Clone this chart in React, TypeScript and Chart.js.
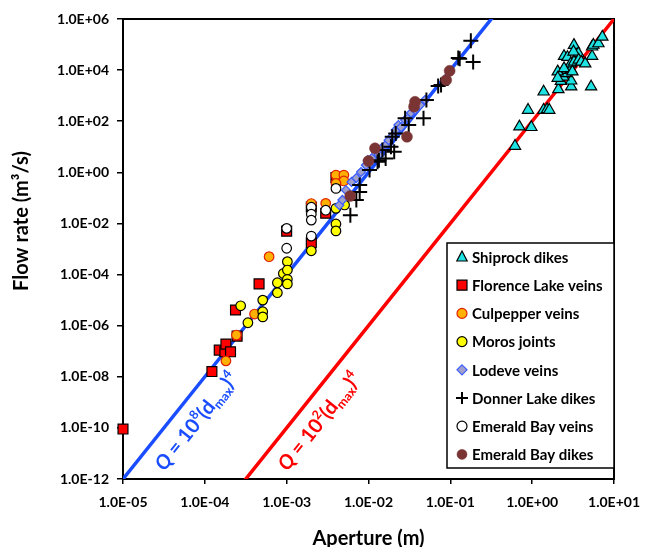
import React, { useEffect, useRef } from 'react';
import { Chart, registerables } from 'chart.js';

Chart.register(...registerables);

const FONT = 'Lato, "Open Sans", "DejaVu Sans", sans-serif';

// ---- axes ----
const xTickValues = [1e-5, 1e-4, 1e-3, 1e-2, 1e-1, 1, 10];
const xTickLabels = ['1.0E-05', '1.0E-04', '1.0E-03', '1.0E-02', '1.0E-01', '1.0E+00', '1.0E+01'];
const yTickValues = [1e-12, 1e-10, 1e-8, 1e-6, 1e-4, 1e-2, 1, 1e2, 1e4, 1e6];
const yTickLabels = ['1.0E-12', '1.0E-10', '1.0E-08', '1.0E-06', '1.0E-04', '1.0E-02', '1.0E+00', '1.0E+02', '1.0E+04', '1.0E+06'];
const xTitle = 'Aperture (m)';
const yTitle = 'Flow rate (m³/s)';

// ---- series (aperture in m, flow rate in m3/s) ----
const shiprockAperture = [0.617, 0.698, 0.977, 0.89, 1.38, 1.52, 1.62, 1.38, 2.09, 3.0, 3.0, 5.25, 2.24, 2.4, 2.58, 2.7, 2.96, 2.45, 2.7, 3.24, 3.67, 3.2, 2.96, 3.24, 3.7, 3.98, 4.45, 5.4, 5.4, 5.6, 6.45, 7.2, 2.05, 2.45, 3.1, 2.05];
const shiprockFlow = [10.7, 61, 58, 274, 274, 290, 274, 1420, 1770, 2240, 3830, 2240, 3700, 5500, 7400, 1.0e4, 1.07e4, 3.5e4, 3.2e4, 9.5e4, 4.5e4, 5.2e4, 1.8e4, 2.1e4, 2.5e4, 2.1e4, 1.8e4, 3.5e4, 8.2e4, 9.6e4, 1.1e5, 2.0e5, 8700, 1.17e4, 8700, 4900];

const florenceAperture = [1e-5, 1.22e-4, 1.5e-4, 1.76e-4, 1.81e-4, 2.06e-4, 2.48e-4, 2.37e-4, 4.6e-4, 1e-3, 2e-3, 2e-3, 3e-3, 4e-3];
const florenceFlow = [9e-11, 1.6e-8, 1.1e-7, 9.5e-8, 1.9e-7, 9.5e-8, 3.9e-7, 4.1e-6, 4.3e-5, 5e-3, 1.76e-3, 0.044, 0.025, 0.63];

const culpepperAperture = [1.81e-4, 2.43e-4, 4.05e-4, 6.1e-4, 2e-3, 3e-3, 4e-3, 5e-3, 5e-3, 4e-3];
const culpepperFlow = [4.2e-8, 4.3e-7, 2.85e-6, 5e-4, 0.06, 0.061, 0.78, 0.78, 0.46, 0.37];

const morosAperture = [2.74e-4, 3.36e-4, 5.1e-4, 5.1e-4, 5.1e-4, 7.7e-4, 7.7e-4, 9.1e-4, 1.02e-3, 1.02e-3, 1.02e-3, 1.02e-3, 2e-3, 4e-3, 4e-3, 4e-3, 5.1e-3];
const morosFlow = [6e-6, 1.3e-6, 1e-5, 3.5e-6, 2.2e-6, 4.8e-5, 1.95e-5, 1.1e-4, 3.2e-4, 1.5e-4, 6.5e-5, 4.3e-5, 8.5e-4, 0.039, 9.5e-3, 5.1e-3, 0.053];

const lodeveAperture = [4.4e-3, 4.8e-3, 5.3e-3, 6.2e-3, 7.1e-3, 8.1e-3, 9.3e-3, 9.8e-3, 0.011, 0.0123, 0.0133, 0.0145, 0.0162, 0.0176, 0.0196, 0.0214, 0.0232, 0.025, 0.028, 0.0305, 0.033, 0.037, 0.0427, 0.049];
const lodeveFlow = [0.052, 0.083, 0.2, 0.42, 0.6, 1.03, 1.9, 3.0, 3.6, 7.4, 4.8, 8.9, 11.7, 18, 26, 45, 71, 59, 112, 132, 209, 275, 427, 676];

const donnerAperture = [0.006, 0.0071, 0.0078, 0.0078, 0.0103, 0.0129, 0.0134, 0.0148, 0.0162, 0.0188, 0.0195, 0.0206, 0.0215, 0.028, 0.031, 0.047, 0.051, 0.071, 0.077, 0.125, 0.13, 0.178, 0.19];
const donnerFlow = [0.021, 0.083, 0.17, 0.32, 1.23, 2.6, 3.0, 7.4, 3.5, 10, 24.6, 6.4, 33, 130, 71, 130, 670, 2400, 2600, 3.0e4, 2.8e4, 1.4e5, 2.1e4];

const emeraldVeinsAperture = [1e-3, 1e-3, 2e-3, 2e-3, 2e-3, 2e-3, 3e-3, 4e-3];
const emeraldVeinsFlow = [6.4e-3, 1.07e-3, 0.043, 0.023, 0.0135, 3.2e-3, 0.033, 0.235];

const emeraldDikesAperture = [5.97e-3, 0.01, 0.012, 0.0295, 0.036, 0.037, 0.089, 0.098];
const emeraldDikesFlow = [0.118, 2.76, 8.7, 24.6, 370, 575, 4080, 9400];

// ---- fit lines Q = c * d^4 ----
const fitCoefficients = [1e8, 1e2];
const fitExponentLabels = ['8', '2'];
const fitExponent = 4;
const fitColors = ['#1A4DFF', '#FF0000'];
const fitLabelAnchorAperture = [3.2e-5, 1.016e-3];
const fitLabelAnchorFlow = [1.86e-12, 1.86e-12];

const pts = (xs: number[], ys: number[]) => xs.map((x, i) => ({ x, y: ys[i] }));

type Seg = { t: string; italic?: boolean; sup?: boolean; sub?: boolean };

function drawMarker(ctx: CanvasRenderingContext2D, style: string, x: number, y: number, r: number, fill: string, stroke: string, lw: number) {
  ctx.save();
  ctx.beginPath();
  ctx.fillStyle = fill;
  ctx.strokeStyle = stroke;
  ctx.lineWidth = lw;
  if (style === 'triangle') {
    ctx.moveTo(x, y - r);
    ctx.lineTo(x + r * 0.866, y + r * 0.5 + 1);
    ctx.lineTo(x - r * 0.866, y + r * 0.5 + 1);
    ctx.closePath();
    ctx.fill();
    ctx.stroke();
  } else if (style === 'rect') {
    ctx.rect(x - r, y - r, 2 * r, 2 * r);
    ctx.fill();
    ctx.stroke();
  } else if (style === 'rectRot') {
    ctx.moveTo(x, y - r);
    ctx.lineTo(x + r, y);
    ctx.lineTo(x, y + r);
    ctx.lineTo(x - r, y);
    ctx.closePath();
    ctx.fill();
    ctx.stroke();
  } else if (style === 'cross') {
    ctx.moveTo(x - r, y);
    ctx.lineTo(x + r, y);
    ctx.moveTo(x, y - r);
    ctx.lineTo(x, y + r);
    ctx.stroke();
  } else {
    ctx.arc(x, y, r, 0, Math.PI * 2);
    ctx.fill();
    if (lw > 0) ctx.stroke();
  }
  ctx.restore();
}

const decorPlugin = {
  id: 'decor',
  beforeDatasetsDraw(chart: any) {
    const { ctx, chartArea } = chart;
    ctx.save();
    ctx.strokeStyle = '#000';
    ctx.lineWidth = 2;
    ctx.strokeRect(chartArea.left, chartArea.top, chartArea.right - chartArea.left, chartArea.bottom - chartArea.top);
    ctx.restore();
  },
  afterDraw(chart: any) {
    const { ctx, chartArea } = chart;
    const xs = chart.scales.x;
    const ys = chart.scales.y;

    // fit line labels
    fitCoefficients.forEach((c, i) => {
      const x1 = xs.getPixelForValue(1e-5), y1 = ys.getPixelForValue(c * Math.pow(1e-5, fitExponent));
      const x2 = xs.getPixelForValue(1e-3), y2 = ys.getPixelForValue(c * Math.pow(1e-3, fitExponent));
      const ang = Math.atan2(y2 - y1, x2 - x1);
      const ax = xs.getPixelForValue(fitLabelAnchorAperture[i]);
      const ay = ys.getPixelForValue(fitLabelAnchorFlow[i]);
      const segs: Seg[] = [
        { t: 'Q', italic: true },
        { t: ' = 10' },
        { t: fitExponentLabels[i], sup: true },
        { t: '(d' },
        { t: 'max', sub: true },
        { t: ')' },
        { t: String(fitExponent), sup: true },
      ];
      ctx.save();
      ctx.translate(ax, ay);
      ctx.rotate(ang);
      ctx.fillStyle = fitColors[i];
      ctx.textBaseline = 'alphabetic';
      ctx.textAlign = 'left';
      let x = 0;
      for (const s of segs) {
        const size = s.sup || s.sub ? 12.5 : 20;
        ctx.font = `${s.italic ? 'italic ' : ''}bold ${size}px ${FONT}`;
        const dy = s.sup ? -8.5 : s.sub ? 4 : 0;
        ctx.fillText(s.t, x, dy);
        x += ctx.measureText(s.t).width;
      }
      ctx.restore();
    });

    // axis titles
    ctx.save();
    ctx.fillStyle = '#000';
    ctx.font = `bold 20px ${FONT}`;
    ctx.textAlign = 'center';
    ctx.textBaseline = 'alphabetic';
    ctx.fillText(xTitle, (chartArea.left + chartArea.right) / 2, 545);
    ctx.translate(22, 221);
    ctx.rotate(-Math.PI / 2);
    ctx.textBaseline = 'middle';
    ctx.fillText(yTitle, 0, 0);
    ctx.restore();

    // legend
    const lx = 447, ly = 243, lw = 167, lh = 225;
    ctx.save();
    ctx.fillStyle = '#fff';
    ctx.fillRect(lx, ly, lw, lh);
    ctx.strokeStyle = '#000';
    ctx.lineWidth = 1.5;
    ctx.strokeRect(lx, ly, lw, lh);
    const items = chart.data.datasets.filter((d: any) => d.type !== 'line');
    items.forEach((d: any, k: number) => {
      const cy = ly + 14 + k * 28.2;
      const mx = lx + 15;
      const st = d.pointStyle;
      const r = st === 'rect' ? 5 : st === 'triangle' ? 6 : st === 'cross' ? 6 : st === 'rectRot' ? 5 : 5;
      drawMarker(ctx, st, mx, cy, r, d.backgroundColor, d.borderColor, st === 'cross' ? 2 : d.borderWidth);
      ctx.fillStyle = '#000';
      ctx.font = `bold 15px ${FONT}`;
      ctx.textAlign = 'left';
      ctx.textBaseline = 'middle';
      ctx.fillText(d.label, lx + 25, cy + 1);
    });
    ctx.restore();
  },
};

export default function App() {
  const ref = useRef<HTMLCanvasElement | null>(null);
  useEffect(() => {
    if (!ref.current) return;
    const fitDatasets = fitCoefficients.map((c, i) => ({
      type: 'line' as const,
      label: 'fit' + i,
      data: xTickValues.map((d) => ({ x: d, y: c * Math.pow(d, fitExponent) })),
      borderColor: fitColors[i],
      borderWidth: 3.5,
      pointRadius: 0,
      fill: false,
      tension: 0,
      order: 50,
    }));
    const scatter = (label: string, xs: number[], ys: number[], pointStyle: string, radius: number, bg: string, border: string, bw: number, order: number) => ({
      type: 'scatter' as const,
      label,
      data: pts(xs, ys),
      pointStyle,
      pointRadius: radius,
      backgroundColor: bg,
      borderColor: border,
      borderWidth: bw,
      order,
      clip: false,
    });
    const chart = new Chart(ref.current, {
      type: 'scatter',
      data: {
        datasets: [
          scatter('Shiprock dikes', shiprockAperture, shiprockFlow, 'triangle', 6.5, '#1FE3E3', '#000', 1.2, 8),
          scatter('Florence Lake veins', florenceAperture, florenceFlow, 'rect', 7, '#FF0000', '#000', 1.2, 7),
          scatter('Culpepper veins', culpepperAperture, culpepperFlow, 'circle', 4.8, '#FFB000', '#E02000', 1.2, 6),
          scatter('Moros joints', morosAperture, morosFlow, 'circle', 4.8, '#FFFF00', '#000', 1.2, 5),
          scatter('Lodeve veins', lodeveAperture, lodeveFlow, 'rectRot', 4.5, '#A0A0CC', '#3A5CFF', 1.2, 4),
          scatter('Donner Lake dikes', donnerAperture, donnerFlow, 'cross', 7.5, '#000', '#000', 2, 3),
          scatter('Emerald Bay veins', emeraldVeinsAperture, emeraldVeinsFlow, 'circle', 4.8, '#FFFFFF', '#000', 1.2, 2),
          scatter('Emerald Bay dikes', emeraldDikesAperture, emeraldDikesFlow, 'circle', 5.5, '#7A3434', '#7A3434', 0.5, 1),
          ...fitDatasets,
        ] as any,
      },
      options: {
        responsive: false,
        animation: false,
        devicePixelRatio: 1,
        events: [],
        layout: { padding: { left: 0, top: 19, right: 28, bottom: 0 } },
        plugins: { legend: { display: false }, tooltip: { enabled: false } },
        scales: {
          x: {
            type: 'logarithmic',
            position: 'bottom',
            min: 1e-5,
            max: 10,
            afterBuildTicks: (s: any) => {
              s.ticks = xTickValues.map((v) => ({ value: v }));
            },
            afterFit: (s: any) => {
              s.height = 68;
            },
            ticks: {
              autoSkip: false,
              maxRotation: 0,
              minRotation: 0,
              padding: 10,
              color: '#000',
              font: { family: FONT, size: 14, weight: 'bold' },
              callback: (_v: any, i: number) => xTickLabels[i],
            },
            grid: { display: true, drawOnChartArea: false, drawTicks: true, tickLength: 5, color: '#000', lineWidth: 1.5 },
            border: { display: true, color: '#000', width: 2 },
          },
          y: {
            type: 'logarithmic',
            position: 'left',
            min: 1e-12,
            max: 1e6,
            afterBuildTicks: (s: any) => {
              s.ticks = yTickValues.map((v) => ({ value: v }));
            },
            afterFit: (s: any) => {
              s.width = 123;
            },
            ticks: {
              autoSkip: false,
              padding: 8,
              color: '#000',
              font: { family: FONT, size: 14, weight: 'bold' },
              callback: (_v: any, i: number) => yTickLabels[i],
            },
            grid: { display: true, drawOnChartArea: false, drawTicks: true, tickLength: 6, color: '#000', lineWidth: 1.5 },
            border: { display: true, color: '#000', width: 2 },
          },
        },
      } as any,
      plugins: [decorPlugin],
    });
    return () => chart.destroy();
  }, []);
  return (
    <div style={{ position: 'fixed', left: 0, top: 0, width: 650, height: 547, background: '#fff' }}>
      <canvas ref={ref} width={650} height={547} style={{ display: 'block', width: 650, height: 547 }} />
    </div>
  );
}
